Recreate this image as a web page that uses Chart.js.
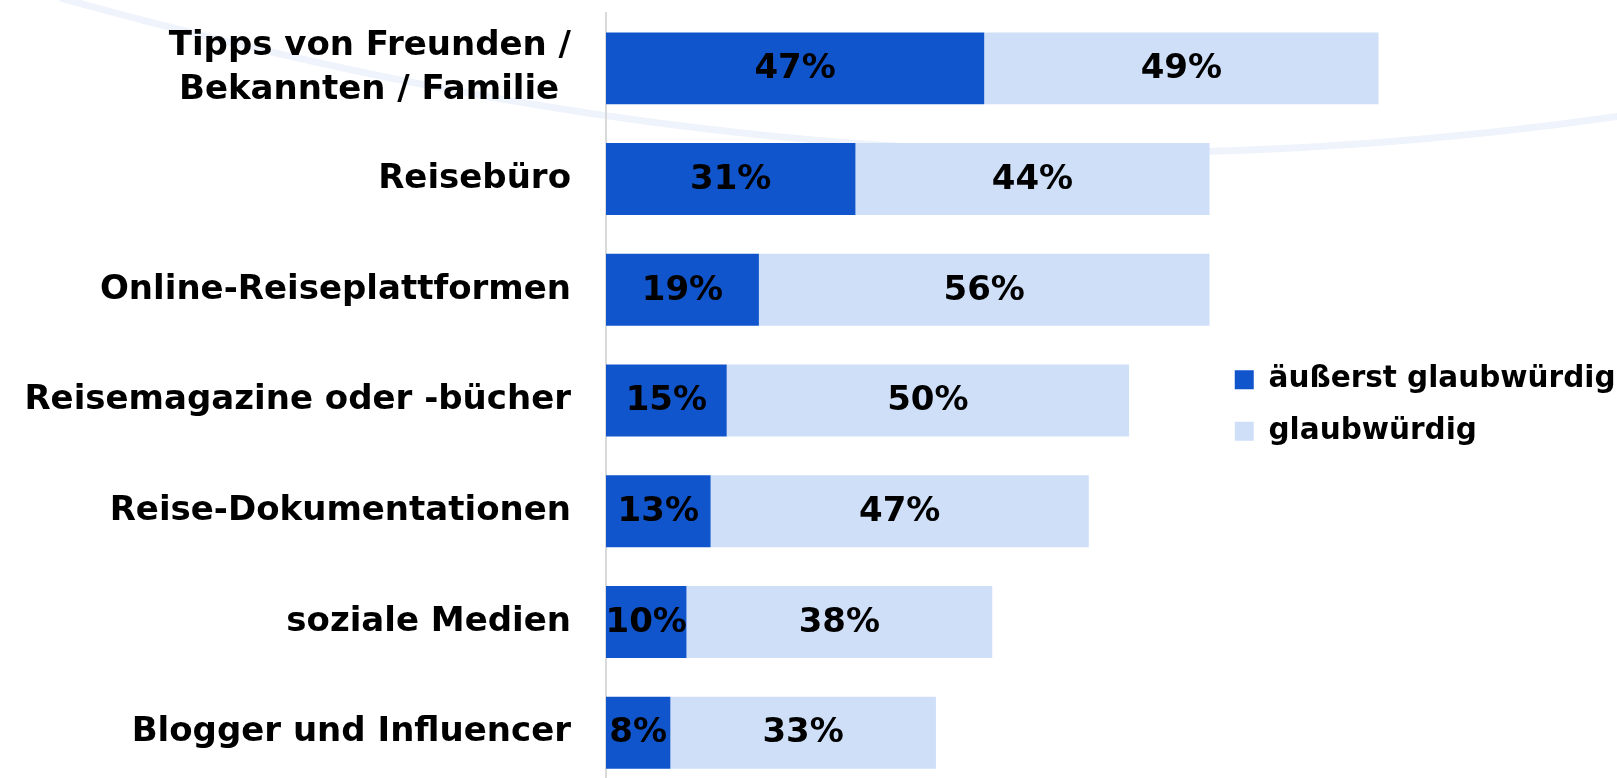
<!DOCTYPE html>
<html>
<head>
<meta charset="utf-8">
<script src="https://cdn.jsdelivr.net/npm/chart.js@4"></script>
<style>
  html, body { margin: 0; padding: 0; background: #fff; overflow: hidden; }
  #wrap { position: absolute; left: 0; top: 0; width: 1617px; height: 800px; }
</style>
</head>
<body>
<div id="wrap"><canvas id="myChart"></canvas></div>
<script>
'use strict';

const categories = [
  ['Tipps von Freunden /', 'Bekannten / Familie '],
  'Reisebüro',
  'Online-Reiseplattformen',
  'Reisemagazine oder -bücher',
  'Reise-Dokumentationen',
  'soziale Medien',
  'Blogger und Influencer'
];
const extremelyCredible = [47, 31, 19, 15, 13, 10, 8];
const credible = [49, 44, 56, 50, 47, 38, 33];
const seriesNames = ['äußerst glaubwürdig', 'glaubwürdig'];

const FONT = '"DejaVu Sans", sans-serif';

// faint decorative swoosh behind the chart
const backgroundCurve = {
  id: 'backgroundCurve',
  beforeDraw(chart) {
    const ctx = chart.ctx;
    ctx.save();
    ctx.strokeStyle = '#eef3fc';
    ctx.lineWidth = 7;
    ctx.beginPath();
    ctx.moveTo(60, -2);
    ctx.bezierCurveTo(500, 120, 1000, 205, 1620, 116);
    ctx.stroke();
    ctx.restore();
  }
};

// percentage labels centred in each bar segment
const barLabels = {
  id: 'barLabels',
  afterDatasetsDraw(chart) {
    const ctx = chart.ctx;
    ctx.save();
    ctx.font = 'bold 34px ' + FONT;
    ctx.fillStyle = '#000';
    ctx.textAlign = 'center';
    ctx.textBaseline = 'middle';
    chart.data.datasets.forEach((ds, i) => {
      chart.getDatasetMeta(i).data.forEach((bar, j) => {
        ctx.fillText(ds.data[j] + '%', (bar.x + bar.base) / 2, bar.y + 1);
      });
    });
    ctx.restore();
  }
};

new Chart(document.querySelector('#myChart'), {
  type: 'bar',
  data: {
    labels: categories,
    datasets: [
      {
        label: seriesNames[0],
        data: extremelyCredible,
        backgroundColor: '#1055cc',
        clip: false,
      },
      {
        label: seriesNames[1],
        data: credible,
        backgroundColor: '#cfdff8',
        clip: false,
      },
    ],
  },
  options: {
    indexAxis: 'y',
    responsive: true,
    maintainAspectRatio: false,
    animation: false,
    layout: {
      padding: {top: 13, bottom: 12, left: 0, right: 0}
    },
    datasets: {
      bar: {
        categoryPercentage: 1,
        barPercentage: 0.65,
      }
    },
    scales: {
      x: {
        stacked: true,
        display: false,
        min: 0,
        max: 75.4,
      },
      y: {
        stacked: true,
        grid: { display: false },
        border: { display: true, color: '#d9d9d9', width: 2 },
        ticks: {
          color: '#000',
          padding: 27,
          font: { family: FONT, size: 34, weight: 'bold', lineHeight: 1.3 },
        },
        afterFit(scale) {
          scale.width = 606;
          scale.paddingTop = 0;
          scale.paddingBottom = 0;
        }
      }
    },
    plugins: {
      tooltip: { enabled: false },
      legend: {
        position: 'right',
        align: 'center',
        title: {
          display: true,
          text: '',
          padding: 0,
          font: { size: 10, lineHeight: 1 },
        },
        labels: {
          color: '#000',
          boxWidth: 19,
          boxHeight: 19,
          padding: 22,
          font: { family: FONT, size: 29.5, weight: 'bold' },
        }
      }
    }
  },
  plugins: [backgroundCurve, barLabels],
});
</script>
</body>
</html>
